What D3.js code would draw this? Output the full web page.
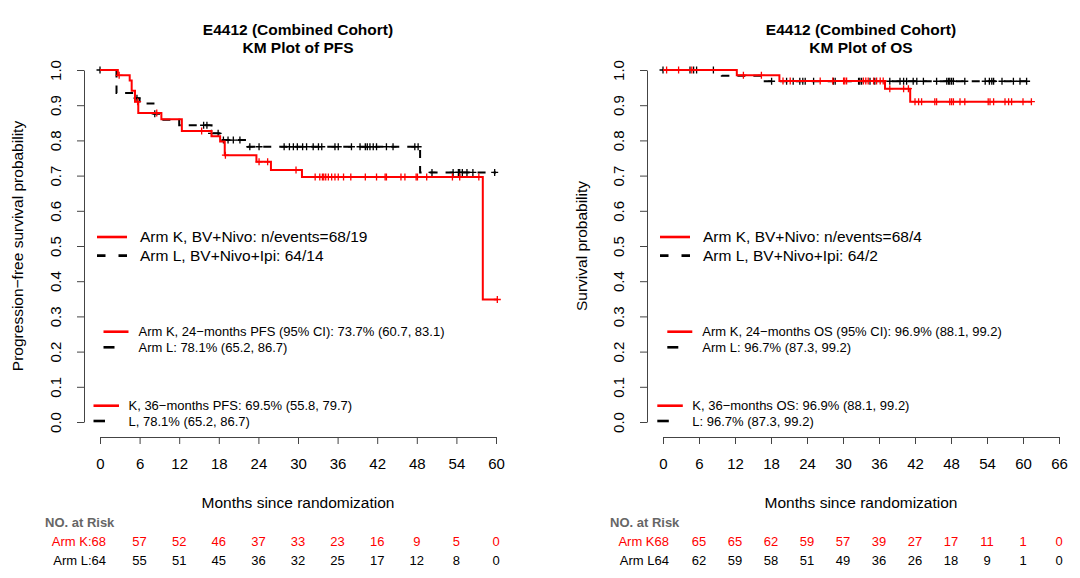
<!DOCTYPE html>
<html>
<head>
<meta charset="utf-8">
<script src="https://cdn.jsdelivr.net/npm/d3@7/dist/d3.min.js"></script>
<style>
body { margin: 0; background: #fff; }
text { font-family: "Liberation Sans", Arial, sans-serif; }
</style>
</head>
<body>
<div id="chart-area"></div>
<script>
// tick values
var pfsMonthTicks = [0, 6, 12, 18, 24, 30, 36, 42, 48, 54, 60];
var osMonthTicks = [0, 6, 12, 18, 24, 30, 36, 42, 48, 54, 60, 66];
var probTicks = [0, 0.1, 0.2, 0.3, 0.4, 0.5, 0.6, 0.7, 0.8, 0.9, 1.0];

// PFS, arm K (step times / survival after step)
var pfsKTimes = [0, 2.7, 4.5, 4.8, 5.3, 5.8, 9.3, 12.4, 16.9, 18.2, 18.9, 23.7, 25.9, 30.6, 58.0];
var pfsKSurv  = [1, 0.985, 0.970, 0.941, 0.910, 0.878, 0.860, 0.827, 0.812, 0.797, 0.758, 0.739, 0.716, 0.696, 0.348];
var pfsKEnd = 60.2;
var pfsKCensor = [2.9, 5.7, 8.6, 15.4, 19.0, 24.1, 25.4, 29.7, 32.6, 33.3, 33.7, 33.9, 34.2, 34.6, 35.1, 35.6,
                  36.1, 36.9, 38.0, 40.2, 41.9, 43.2, 43.4, 45.6, 46.2, 47.9, 48.1, 49.5, 53.4, 54.5, 57.4, 60.2];

// PFS, arm L
var pfsLTimes = [0, 2.5, 5.3, 6.0, 8.1, 9.1, 12.0, 16.9, 18.1, 22.4, 48.5];
var pfsLSurv  = [1, 0.935, 0.920, 0.905, 0.876, 0.859, 0.843, 0.820, 0.801, 0.782, 0.709];
var pfsLEnd = 60.0;
var pfsLCensor = [0, 5.6, 8.3, 15.7, 16.2, 16.9, 17.9, 18.7, 19.4, 20.2, 21.2, 22.7, 24.1, 27.9, 28.7, 29.3,
                  29.9, 30.7, 31.3, 32.3, 33.1, 33.6, 35.6, 36.1, 38.1, 39.4, 40.2, 40.5, 40.9, 41.4, 41.9,
                  43.4, 44.4, 47.7, 48.2, 50.3, 53.5, 54.3, 54.5, 54.9, 55.6, 56.5, 59.8];

// OS, arm K
var osKTimes = [0, 12.3, 19.4, 37.0, 41.2];
var osKSurv  = [1, 0.985, 0.969, 0.947, 0.910];
var osKEnd = 61.4;
var osKCensor = [0.6, 2.6, 4.8, 13.4, 16.4, 20.0, 21.2, 26.2, 28.3, 30.1, 30.3, 30.6, 33.4, 33.8, 34.2, 35.1,
                 35.6, 36.2, 36.7, 37.8, 40.1, 40.9, 42.0, 42.6, 43.1, 45.3, 45.6, 47.8, 48.1, 48.4, 49.5,
                 50.3, 54.2, 54.5, 55.1, 57.0, 57.6, 58.1, 60.0, 61.4];

// OS, arm L
var osLTimes = [0, 9.8, 16.2];
var osLSurv  = [1, 0.984, 0.968];
var osLEnd = 60.6;
var osLCensor = [0, 4.5, 5.1, 5.6, 8.4, 18.1, 20.6, 21.7, 22.8, 23.3, 23.7, 25.1, 28.4, 28.7, 32.6, 32.8, 33.1,
                 34.5, 35.3, 37.8, 39.5, 40.1, 40.6, 41.7, 42.3, 43.4, 45.6, 47.3, 47.6, 47.8, 48.1, 48.4,
                 50.3, 53.7, 54.4, 54.8, 55.1, 56.5, 58.4, 59.5, 60.6];

// numbers at risk
var pfsRiskK = [68, 57, 52, 46, 37, 33, 23, 16, 9, 5, 0];
var pfsRiskL = [64, 55, 51, 45, 36, 32, 25, 17, 12, 8, 0];
var osRiskK = [68, 65, 65, 62, 59, 57, 39, 27, 17, 11, 1, 0];
var osRiskL = [64, 62, 59, 58, 51, 49, 36, 26, 18, 9, 1, 0];

// legend texts
var pfsLegend = ["Arm K, BV+Nivo: n/events=68/19", "Arm L, BV+Nivo+Ipi: 64/14"];
var pfsLegend24 = ["Arm K, 24\u2212months PFS (95% CI): 73.7% (60.7, 83.1)", "Arm L: 78.1% (65.2, 86.7)"];
var pfsLegend36 = ["K, 36\u2212months PFS: 69.5% (55.8, 79.7)", "L, 78.1% (65.2, 86.7)"];
var osLegend = ["Arm K, BV+Nivo: n/events=68/4", "Arm L, BV+Nivo+Ipi: 64/2"];
var osLegend24 = ["Arm K, 24\u2212months OS (95% CI): 96.9% (88.1, 99.2)", "Arm L: 96.7% (87.3, 99.2)"];
var osLegend36 = ["K, 36\u2212months OS: 96.9% (88.1, 99.2)", "L: 96.7% (87.3, 99.2)"];

var RED = "#ff0000";

var svg = d3.select("#chart-area")
    .append("svg")
        .attr("width", 1080)
        .attr("height", 578);

function stepPoints(times, surv, end){
    var pts = times.map(function(t, i){ return [t, surv[i]]; });
    pts.push([end, surv[surv.length - 1]]);
    return pts;
}

function survAt(times, surv, t){
    var i = d3.bisectRight(times, t) - 1;
    return surv[Math.max(i, 0)];
}

function drawPanel(p){
    var x = d3.scaleLinear().domain([0, p.xTicks[p.xTicks.length - 1]]).range([p.x0, p.x1]);
    var y = d3.scaleLinear().domain([0, 1]).range([422, 70]);
    var g = svg.append("g");

    // x axis
    var xAxis = g.append("g")
        .attr("transform", "translate(0,437)")
        .call(d3.axisBottom(x).tickValues(p.xTicks).tickSize(7).tickSizeOuter(0).tickPadding(14));
    xAxis.selectAll("text").attr("font-size", "15px").attr("fill", "#000");

    // y axis, rotated labels like base R
    var yAxis = g.append("g")
        .attr("transform", "translate(" + p.yAxisX + ",0)")
        .call(d3.axisLeft(y).tickValues(probTicks).tickSize(7).tickSizeOuter(0).tickFormat(d3.format(".1f")));
    yAxis.selectAll("text")
        .attr("x", 0).attr("dy", 0)
        .attr("text-anchor", "middle")
        .attr("font-size", "15px").attr("fill", "#000")
        .attr("transform", "translate(-23,0) rotate(-90)");
    g.selectAll(".domain, .tick line").attr("stroke", "#444");

    // titles
    g.append("text")
        .attr("x", p.titleX).attr("y", 35)
        .attr("text-anchor", "middle").attr("font-size", "15.5px").attr("font-weight", "bold")
        .text("E4412 (Combined Cohort)");
    g.append("text")
        .attr("x", p.titleX).attr("y", 53)
        .attr("text-anchor", "middle").attr("font-size", "15.5px").attr("font-weight", "bold")
        .text(p.title);
    g.append("text")
        .attr("x", p.titleX).attr("y", 508)
        .attr("text-anchor", "middle").attr("font-size", "15.5px")
        .text("Months since randomization");
    g.append("text")
        .attr("transform", "translate(" + p.yLabelX + ",246) rotate(-90)")
        .attr("text-anchor", "middle").attr("font-size", "15.5px")
        .text(p.yLabel);

    // curves
    var line = d3.line()
        .x(function(d){ return x(d[0]); })
        .y(function(d){ return y(d[1]); })
        .curve(d3.curveStepAfter);

    p.arms.forEach(function(a){
        g.append("path")
            .datum(stepPoints(a.times, a.surv, a.end))
            .attr("fill", "none")
            .attr("stroke", a.color)
            .attr("stroke-width", 2)
            .attr("stroke-dasharray", a.dash)
            .attr("d", line);

        // censor marks
        g.selectAll(null)
            .data(a.censor)
            .enter().append("path")
            .attr("stroke", a.color)
            .attr("stroke-width", 1.3)
            .attr("fill", "none")
            .attr("d", function(t){
                var cx = x(t), cy = y(survAt(a.times, a.surv, t));
                return "M" + (cx - 3.5) + "," + cy + "H" + (cx + 3.5) +
                       "M" + cx + "," + (cy - 3.5) + "V" + (cy + 3.5);
            });
    });

    // legends
    function legend(items, lx, ly, gap, fs, redLen, blackDash, blackLen, tx){
        g.append("line")
            .attr("x1", lx).attr("x2", lx + redLen).attr("y1", ly).attr("y2", ly)
            .attr("stroke", RED).attr("stroke-width", 2.6);
        g.append("line")
            .attr("x1", lx).attr("x2", lx + blackLen).attr("y1", ly + gap).attr("y2", ly + gap)
            .attr("stroke", "#000").attr("stroke-width", 2.6)
            .attr("stroke-dasharray", blackDash);
        items.forEach(function(s, i){
            g.append("text")
                .attr("x", tx).attr("y", ly + i * gap + fs * 0.35)
                .attr("font-size", fs + "px")
                .text(s);
        });
    }
    legend(p.legend1, p.leg1X, 237, 18.6, 15.5, 30, "8.5,13", 30, p.leg1X + 43);
    legend(p.legend2, p.leg2X, 331.7, 15.6, 13, 25, null, 11, p.leg2X + 35);
    legend(p.legend3, p.leg3X, 405.7, 15.3, 13, 25.5, null, 11.5, p.leg3X + 35);

    // numbers at risk
    g.append("text")
        .attr("x", p.riskLabelX).attr("y", 526.5)
        .attr("font-size", "13px").attr("font-weight", "bold").attr("fill", "#666")
        .text("NO. at Risk");
    [[p.riskK, RED, 545.5, p.riskKName], [p.riskL, "#000", 564.5, p.riskLName]].forEach(function(r){
        g.selectAll(null)
            .data(r[0])
            .enter().append("text")
            .attr("x", function(d, i){ return i === 0 ? x(p.xTicks[0]) + 6 : x(p.xTicks[i]); })
            .attr("y", r[2])
            .attr("text-anchor", function(d, i){ return i === 0 ? "end" : "middle"; })
            .attr("font-size", "13px")
            .attr("fill", r[1])
            .text(function(d, i){ return i === 0 ? r[3] + d : d; });
    });
}

drawPanel({
    xTicks: pfsMonthTicks, x0: 100, x1: 496, yAxisX: 84,
    titleX: 298, title: "KM Plot of PFS", yLabelX: 23,
    yLabel: "Progression\u2212free survival probability",
    arms: [
        { times: pfsLTimes, surv: pfsLSurv, end: pfsLEnd, censor: pfsLCensor, color: "#000", dash: "8,8" },
        { times: pfsKTimes, surv: pfsKSurv, end: pfsKEnd, censor: pfsKCensor, color: RED, dash: null }
    ],
    legend1: pfsLegend, leg1X: 97, legend2: pfsLegend24, leg2X: 103.5, legend3: pfsLegend36, leg3X: 93.5,
    riskLabelX: 45, riskK: pfsRiskK, riskL: pfsRiskL, riskKName: "Arm K:", riskLName: "Arm L:"
});

drawPanel({
    xTicks: osMonthTicks, x0: 663, x1: 1059, yAxisX: 647,
    titleX: 861, title: "KM Plot of OS", yLabelX: 587,
    yLabel: "Survival probability",
    arms: [
        { times: osLTimes, surv: osLSurv, end: osLEnd, censor: osLCensor, color: "#000", dash: "8,8" },
        { times: osKTimes, surv: osKSurv, end: osKEnd, censor: osKCensor, color: RED, dash: null }
    ],
    legend1: osLegend, leg1X: 660, legend2: osLegend24, leg2X: 667.3, legend3: osLegend36, leg3X: 657.3,
    riskLabelX: 610, riskK: osRiskK, riskL: osRiskL, riskKName: "Arm K", riskLName: "Arm L"
});
</script>
</body>
</html>
